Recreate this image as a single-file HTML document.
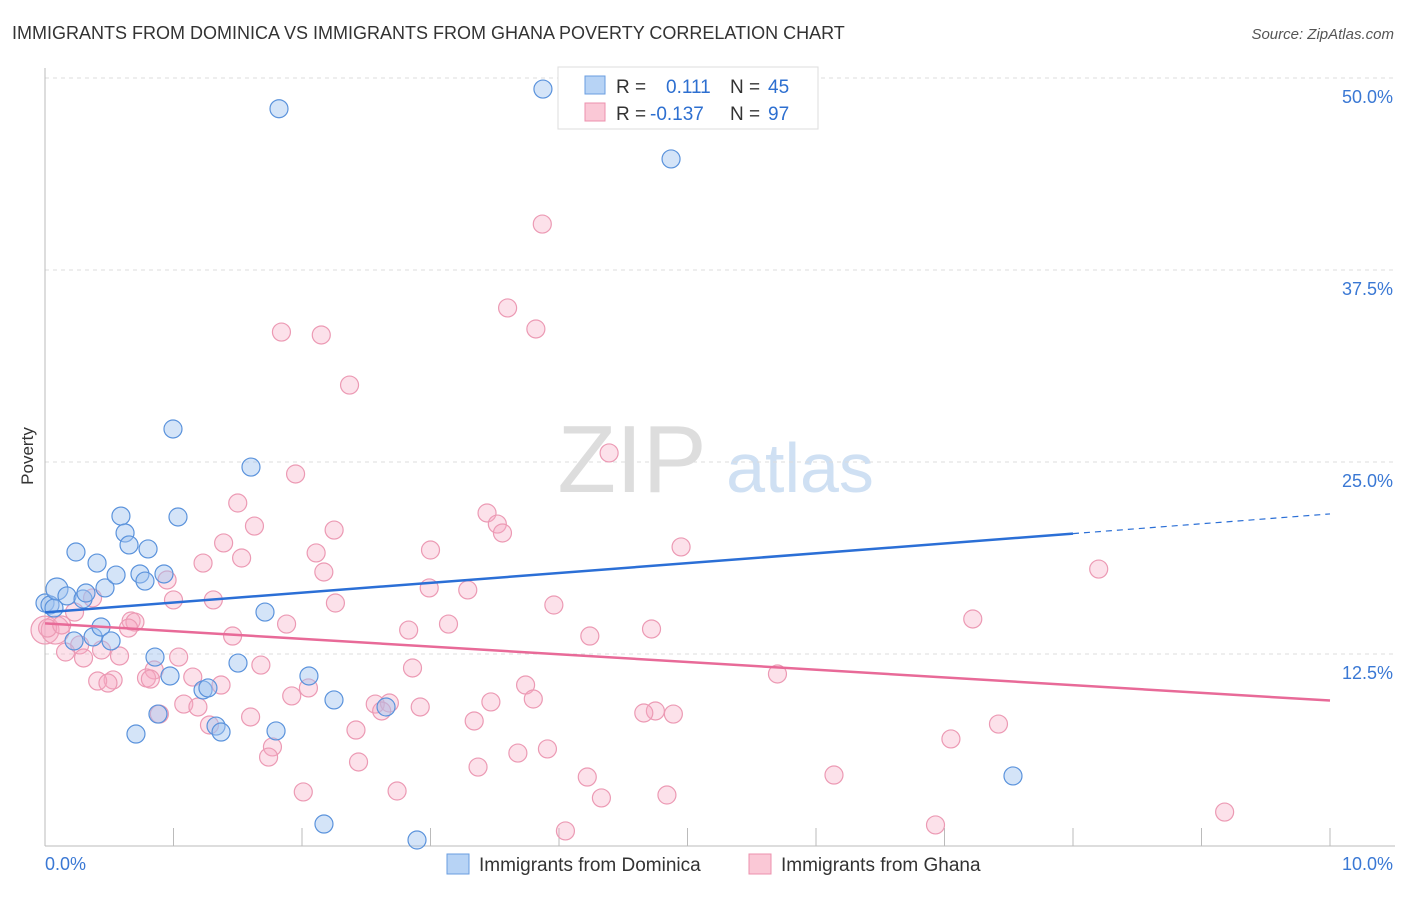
<!DOCTYPE html>
<html><head><meta charset="utf-8"><style>
body{margin:0;background:#fff;font-family:"Liberation Sans",sans-serif}
svg text{font-family:"Liberation Sans",sans-serif}
</style></head><body>
<svg id="chart" width="1406" height="892">
<text x="12" y="39" font-size="18" fill="#333">IMMIGRANTS FROM DOMINICA VS IMMIGRANTS FROM GHANA POVERTY CORRELATION CHART</text>
<text x="1394" y="39" font-size="15" fill="#555" text-anchor="end" font-style="italic">Source: ZipAtlas.com</text>
<text x="632" y="492" font-size="96" fill="#ddd" font-family="Liberation Serif" text-anchor="middle">ZIP</text>
<text x="800" y="492" font-size="70" fill="#cfe0f3" text-anchor="middle">atlas</text>
<text transform="translate(33,456) rotate(-90)" font-size="17" fill="#333" text-anchor="middle">Poverty</text>
<g id="grid"></g><g id="pts"></g><g id="lines"></g>
<g>
<rect x="558" y="67" width="260" height="62" fill="#fff" stroke="#ddd"/>
<rect x="585" y="76" width="20" height="18" fill="#b7d3f5" stroke="#6a9ee0"/>
<rect x="585" y="103" width="20" height="18" fill="#fac8d6" stroke="#ec90ad"/>
<text x="616" y="93" font-size="19" fill="#333">R = </text><text x="666" y="93" font-size="19" fill="#2d6fd0">0.111</text>
<text x="730" y="93" font-size="19" fill="#333">N = </text><text x="768" y="93" font-size="19" fill="#2d6fd0">45</text>
<text x="616" y="120" font-size="19" fill="#333">R = </text><text x="650" y="120" font-size="19" fill="#2d6fd0">-0.137</text>
<text x="730" y="120" font-size="19" fill="#333">N = </text><text x="768" y="120" font-size="19" fill="#2d6fd0">97</text>
</g>
<g>
<rect x="447" y="854" width="22" height="20" fill="#b7d3f5" stroke="#6a9ee0"/>
<text x="479" y="871" font-size="19" fill="#333">Immigrants from Dominica</text>
<rect x="749" y="854" width="22" height="20" fill="#fac8d6" stroke="#ec90ad"/>
<text x="781" y="871" font-size="19" fill="#333">Immigrants from Ghana</text>
</g>
</svg>
<script>
const yTicks=[12.5,25,37.5,50];
const xTickLabels=["0.0%","10.0%"];
const domX=[0.0,0.039,0.07,0.093,0.171,0.226,0.241,0.296,0.319,0.374,0.405,0.436,0.467,0.514,0.553,0.591,0.623,0.654,0.708,0.739,0.778,0.802,0.856,0.879,0.926,0.973,0.996,1.035,1.23,1.268,1.331,1.37,1.502,1.603,1.712,1.798,1.821,2.054,2.171,2.249,2.654,2.895,3.875,4.872,7.533];
const domY=[15.82,15.69,15.49,16.73,16.28,13.35,19.14,16.08,16.47,13.61,18.42,14.26,16.8,13.35,17.64,21.48,20.38,19.6,7.29,17.71,17.25,19.34,12.3,8.59,17.71,11.07,27.15,21.42,10.16,10.29,7.81,7.42,11.91,24.67,15.23,7.49,48.0,11.07,1.43,9.51,9.05,0.39,49.28,44.73,4.56];
const ghX=[0.0,0.08,0.02,3.87,3.6,1.84,2.15,3.82,2.37,4.39,1.95,1.5,3.44,3.52,1.63,2.25,3.56,1.39,3.0,2.11,1.53,1.23,4.95,8.2,2.17,0.95,2.99,3.29,0.37,1.0,1.31,2.26,3.96,0.23,0.13,7.22,0.67,0.7,1.88,3.14,4.72,2.83,1.46,4.24,0.65,0.27,0.44,0.16,0.58,1.04,0.3,2.86,1.68,0.85,5.7,1.15,0.79,0.53,0.41,0.49,0.82,1.37,3.74,2.05,1.92,3.8,3.47,1.08,2.57,2.68,1.19,2.92,2.62,0.89,4.75,4.66,4.89,1.6,3.34,1.28,7.42,2.42,7.05,1.77,3.91,3.68,1.74,2.44,3.37,6.14,4.22,2.01,2.74,4.33,4.84,9.18,6.93,4.05];
const ghY=[14.06,14.06,14.19,40.49,35.03,33.46,33.27,33.66,30.01,25.59,24.22,22.33,21.68,20.96,20.83,20.57,20.38,19.73,19.27,19.08,18.75,18.42,19.47,18.03,17.84,17.32,16.8,16.67,16.15,16.02,16.02,15.82,15.69,15.23,14.39,14.78,14.65,14.58,14.45,14.45,14.13,14.06,13.67,13.67,14.19,13.09,12.76,12.63,12.37,12.3,12.24,11.59,11.78,11.46,11.2,11.0,10.94,10.81,10.74,10.61,10.87,10.48,10.48,10.29,9.77,9.57,9.38,9.24,9.24,9.31,9.05,9.05,8.79,8.59,8.79,8.66,8.59,8.4,8.14,7.88,7.94,7.55,6.97,6.45,6.32,6.05,5.79,5.47,5.14,4.62,4.49,3.52,3.58,3.13,3.32,2.21,1.37,0.98];
const domTrend=[15.21,21.62];const ghTrend=[14.49,9.47];
const sx=v=>45+v*128.5, sy=v=>846-v*15.36;
const NS="http://www.w3.org/2000/svg";
function mk(t,a,p){const e=document.createElementNS(NS,t);for(const k in a)e.setAttribute(k,a[k]);p.appendChild(e);return e;}
const grid=document.getElementById('grid');
yTicks.forEach(t=>{
 const l=mk('line',{x1:45,x2:1395,y1:sy(t),y2:sy(t),stroke:'#ddd','stroke-dasharray':'4,4'},grid);
 
 
 const tx=mk('text',{x:1393,y:sy(t)+25,'font-size':18,fill:'#3a78d4','text-anchor':'end'},grid);tx.textContent=t.toFixed(1)+'%';
 
 
});
mk('line',{x1:45,x2:45,y1:68,y2:846,stroke:'#bbb'},grid);
mk('line',{x1:45,x2:1395,y1:846,y2:846,stroke:'#bbb'},grid);
for(let i=0;i<=10;i++){mk('line',{x1:sx(i),x2:sx(i),y1:828,y2:846,stroke:'#bbb'},grid);}
const xl0=mk('text',{x:45,y:870,'font-size':18,fill:'#3a78d4'},grid);xl0.textContent=xTickLabels[0];


const xl1=mk('text',{x:1393,y:870,'font-size':18,fill:'#3a78d4','text-anchor':'end'},grid);xl1.textContent=xTickLabels[1];


const pts=document.getElementById('pts');
ghX.forEach((x,i)=>{const c=mk('circle',{cx:sx(x),cy:sy(ghY[i]),r:i<2?14:9,fill:'rgba(246,170,195,0.35)',stroke:'#ec9ab4','stroke-width':1.2},pts);
 
 });
domX.forEach((x,i)=>{const c=mk('circle',{cx:sx(x),cy:sy(domY[i]),r:i==3?11:9,fill:'rgba(160,196,240,0.45)',stroke:'#5b93dc','stroke-width':1.2},pts);
 
 });
const lines=document.getElementById('lines');
const bx=8.0, by=domTrend[0]+(domTrend[1]-domTrend[0])*0.8;
const b1=mk('line',{x1:sx(0),y1:sy(domTrend[0]),x2:sx(bx),y2:sy(by),stroke:'#2b6fd6','stroke-width':2.5},lines);


const b2=mk('line',{x1:sx(bx),y1:sy(by),x2:sx(10),y2:sy(domTrend[1]),stroke:'#2b6fd6','stroke-width':1.2,'stroke-dasharray':'6,5'},lines);


const p1=mk('line',{x1:sx(0),y1:sy(ghTrend[0]),x2:sx(10),y2:sy(ghTrend[1]),stroke:'#e86a98','stroke-width':2.5},lines);


</script>
</body></html>
